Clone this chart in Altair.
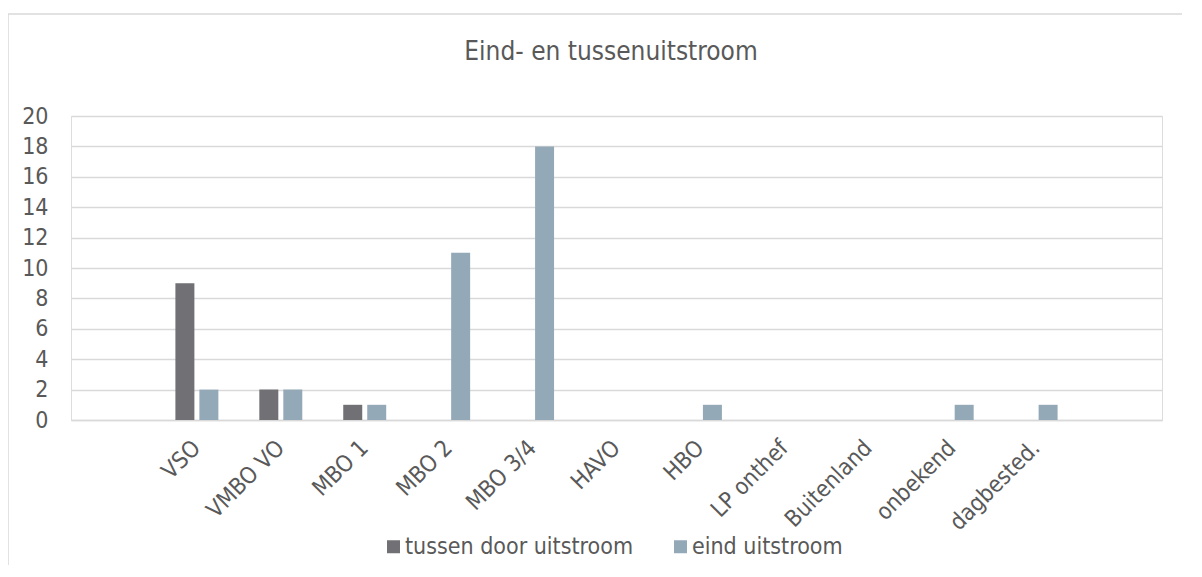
import altair as alt
import pandas as pd

categories = ["VSO", "VMBO VO", "MBO 1", "MBO 2", "MBO 3/4", "HAVO", "HBO",
              "LP onthef", "Buitenland", "onbekend", "dagbested."]
tussen = [9, 2, 1, 0, 0, 0, 0, 0, 0, 0, 0]
eind = [2, 2, 1, 11, 18, 0, 1, 0, 0, 1, 1]
series = ["tussen door uitstroom", "eind uitstroom"]
colors = ["#707075", "#94a9b8"]
y_ticks = [0, 2, 4, 6, 8, 10, 12, 14, 16, 18, 20]
title_text = "Eind- en tussenuitstroom"

rows = []
for c, t, e in zip(categories, tussen, eind):
    rows.append({"cat": c, "serie": series[0], "val": t})
    rows.append({"cat": c, "serie": series[1], "val": e})
df = pd.DataFrame(rows)

FONT = "DejaVu Sans Condensed, DejaVu Sans, sans-serif"
TXT = "#595959"
GRID = "#d9d9d9"

bars = alt.Chart(df).mark_bar().encode(
    x=alt.X("cat:N", sort=categories,
            scale=alt.Scale(paddingInner=0, paddingOuter=1),
            axis=alt.Axis(title=None, labelAngle=-45, labelAlign="right",
                          labelBaseline="middle", labelPadding=24, ticks=False,
                          grid=False, domainColor=GRID, domainWidth=1.5,
                          labelFontSize=23, labelColor=TXT, labelFont=FONT)),
    xOffset=alt.XOffset("serie:N", sort=series,
                        scale=alt.Scale(paddingInner=0.208, paddingOuter=0.854)),
    y=alt.Y("val:Q", scale=alt.Scale(domain=[0, 20], nice=False),
            axis=alt.Axis(title=None, values=y_ticks, ticks=False, domain=False,
                          gridColor=GRID, gridWidth=1.5, labelPadding=23,
                          labelFontSize=23, labelColor=TXT, labelFont=FONT)),
    color=alt.Color("serie:N", sort=series,
                    scale=alt.Scale(domain=series, range=colors),
                    legend=alt.Legend(title=None, orient="none", legendX=311, legendY=419,
                                      direction="horizontal", symbolType="square",
                                      symbolSize=169, symbolStrokeWidth=0,
                                      labelFontSize=23, labelColor=TXT, labelFont=FONT,
                                      labelLimit=500, labelOffset=0, columnPadding=35,
                                      padding=0)),
)

border = alt.Chart(alt.Data(values=[{"k": 1}])).mark_rect(
    fill=None, stroke=GRID, strokeWidth=1.5
).encode(
    x=alt.value(-63), x2=alt.value(1300), y=alt.value(-102), y2=alt.value(700)
)

title = alt.Chart(alt.Data(values=[{"t": title_text}])).mark_text(
    font=FONT, fontSize=26, color=TXT, align="center", baseline="alphabetic"
).encode(
    text="t:N", x=alt.value(540), y=alt.value(-56)
)

chart = alt.layer(border, title, bars).properties(
    width=1091, height=304,
    autosize=alt.AutoSizeParams(type="none"),
    padding={"left": 63, "top": 108, "right": 20, "bottom": 145},
).configure_view(stroke="transparent", strokeWidth=0).configure(background="white")

chart.save("out.html", embed_options={"renderer": "svg", "actions": False})
